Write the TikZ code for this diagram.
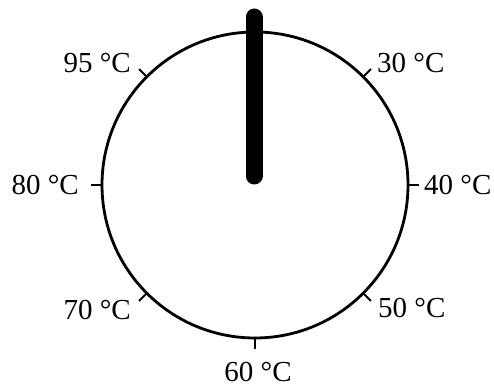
\documentclass[tikz,border=0pt]{standalone}
\usepackage{fontspec}
\setmainfont{Liberation Serif}
\usetikzlibrary{calc}
\begin{document}
\begin{tikzpicture}[x=1pt,y=1pt,
  lbl/.style={inner sep=0pt,font=\fontsize{29}{30}\selectfont},
  tick/.style={line width=1.8pt}]
\useasboundingbox (0,0) rectangle (494,387);
\coordinate (c) at (255,202);
\draw[line width=2.8pt] (c) circle[radius=153];
\foreach \a in {45,0,-45,-90,-135,180,135}{
  \draw[tick] ($(c)+(\a:153)$) -- ($(c)+(\a:164)$);
}
\coordinate (ptop) at (254,370);
\coordinate (pbot) at (254,211);
\draw[line width=17pt,line cap=round] (pbot) -- (ptop);
\node[lbl,anchor=base west] (t30) at (377,314) {30 °C};
\node[lbl,anchor=base west] (t40) at (424,192) {40 °C};
\node[lbl,anchor=base west] (t50) at (378,69) {50 °C};
\node[lbl,anchor=base] (t60) at (258,5) {60 °C};
\node[lbl,anchor=base east] (t70) at (131,67) {70 °C};
\node[lbl,anchor=base east] (t80) at (79,192) {80 °C};
\node[lbl,anchor=base east] (t95) at (131,314) {95 °C};
\end{tikzpicture}
\end{document}
